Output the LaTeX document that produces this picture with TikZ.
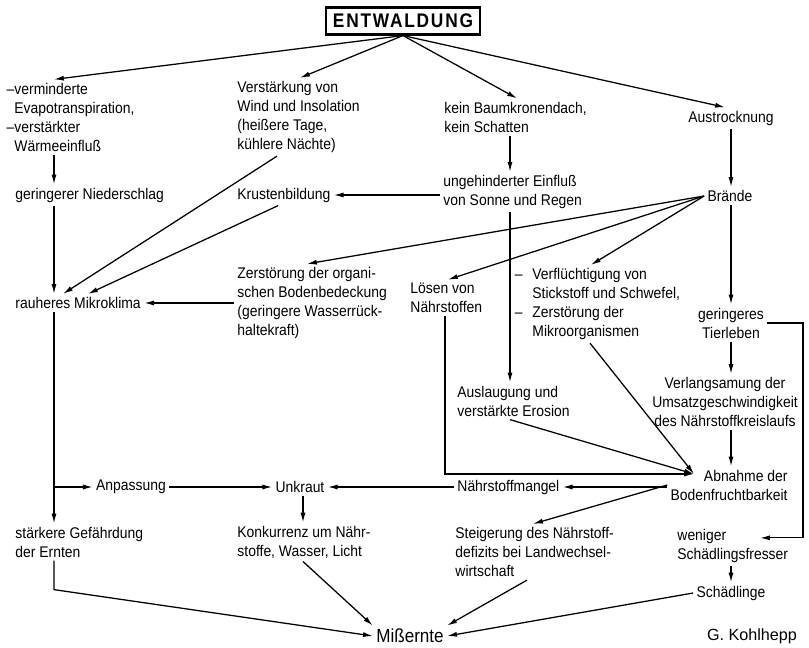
\documentclass[tikz,border=0pt]{standalone}
\usepackage{fontspec}
\setmainfont{Liberation Sans}[FakeStretch=0.9]
\newfontfamily\titlefont{Liberation Sans}[FakeStretch=0.88,LetterSpace=9]
\newfontfamily\signfont{Liberation Sans}
\usetikzlibrary{arrows.meta,calc}

\begin{document}
\begin{tikzpicture}[x=0.025cm,y=-0.025cm,line width=0.9pt,
	every node/.style={inner sep=2pt,font=\fontsize{11}{13.5}\selectfont},
	lbox/.style={anchor=west,align=left},
	cbox/.style={align=center},
	pfeil/.style={-{Latex[length=7pt,width=3.6pt]}}]
	\useasboundingbox (0,0) rectangle (809,647);

	\coordinate (c1) at (54,0);
	\coordinate (c2) at (303,0);
	\coordinate (c0) at (445,0);
	\coordinate (c3) at (510,0);
	\coordinate (c5) at (731,0);
	\coordinate (c6) at (803,0);

	\node[draw,line width=1.8pt,inner xsep=5pt,inner ysep=4.5pt,font=\titlefont\bfseries\fontsize{14}{16}\selectfont] (E) at (403,21) {ENTWALDUNG};

	\node[lbox]	(verm)		at (11,117)		{\llap{--}verminderte\\Evapotranspiration,\\\llap{--}verstärkter\\Wärmeeinfluß};
	\node[lbox]	(Verst)		at (234,117)	{Verstärkung von\\Wind und Insolation\\(heißere Tage,\\kühlere Nächte)};
	\node[lbox]	(keinB)		at (441,117)	{kein Baumkronendach,\\kein Schatten};
	\node[cbox]	(Austr)		at (731,118)	{Austrocknung};
	\node[lbox]	(gerN)		at (12,195)		{geringerer Niederschlag};
	\node[lbox]	(Krust)		at (234,195)	{Krustenbildung};
	\node[lbox]	(ungeh)		at (440,192)	{ungehinderter Einfluß\\von Sonne und Regen};
	\node[cbox]	(Braende)	at (730,196)	{Brände};
	\node[lbox]	(rauh)		at (12,303)		{rauheres Mikroklima};
	\node[lbox]	(Zerst)		at (234,303)	{Zerstörung der organi-\\schen Bodenbedeckung\\(geringere Wasserrück-\\haltekraft)};
	\node[lbox]	(Loesen)	at (407,298)	{Lösen von\\Nährstoffen};
	\node[lbox]	(Verfl)		at (529,304)	{\llap{--\hspace{7pt}}Verflüchtigung von\\Stickstoff und Schwefel,\\\llap{--\hspace{7pt}}Zerstörung der\\Mikroorganismen};
	\node[cbox]	(Tierl)		at (731,323)	{geringeres\\Tierleben};
	\node[cbox]	(Verl)		at (725,402)	{Verlangsamung der\\Umsatzgeschwindigkeit\\des Nährstoffkreislaufs};
	\node[lbox]	(Ausl)		at (454,401)	{Auslaugung und\\verstärkte Erosion};
	\node[anchor=east,align=right] (Abn) at (791,485) {Abnahme der\\Bodenfruchtbarkeit};
	\node[lbox]	(Naehrm)	at (454,487)	{Nährstoffmangel};
	\node[cbox]	(Unkr)		at (300,487)	{Unkraut};
	\node[cbox]	(Anp)		at (131,487)	{Anpassung};
	\node[lbox]	(staerk)	at (12,542)		{stärkere Gefährdung\\der Ernten};
	\node[lbox]	(Konk)		at (234,542)	{Konkurrenz um Nähr-\\stoffe, Wasser, Licht};
	\node[lbox]	(Steig)		at (452,552)	{Steigerung des Nährstoff-\\defizits bei Landwechsel-\\wirtschaft};
	\node[lbox]	(wenig)		at (674,546)	{weniger\\Schädlingsfresser};
	\node[cbox]	(Schaedl)	at (731,593)	{Schädlinge};
	\node[font=\fontsize{13.5}{15}\selectfont] (Miss) at (410,636) {Mißernte};
	\node[font=\signfont\fontsize{11.5}{13}\selectfont] (sign) at (752,636) {G. Kohlhepp};

	\coordinate (abnin) at ($(Abn.east)+(-97,-11)$);

	\path[pfeil]	(E.south)	edge	(c1 |- verm.north)
					edge	($(Verst.north west)+(66,0)$)
					edge	($(keinB.north west)+(76,0)$)
					edge	($(Austr.north)+(-6,0)$)
		(c1 |- verm.south)	edge	(c1 |- gerN.north)
		(c3 |- keinB.south)	edge	(c3 |- ungeh.north)
		(c5 |- Austr.south)	edge	(c5 |- Braende.north)
		(ungeh.west |- Krust.east)	edge	(Krust.east)
		(c1 |- gerN.south)	edge	(c1 |- rauh.north)
		($(Verst.south west)+(43,0)$)	edge	($(rauh.north west)+(51,0)$)
		($(Krust.south west)+(44,0)$)	edge	($(rauh.north west)+(76,0)$)
		(Zerst.west |- rauh.east)	edge	(rauh.east)
		(Braende.west)	edge	($(Zerst.north west)+(73,0)$)
					edge	($(Loesen.north west)+(41,0)$)
					edge	($(Verfl.north west)+(62,0)$)
		(c5 |- Braende.south)	edge	(c5 |- Tierl.north)
		(c5 |- Tierl.south)	edge	(c5 |- Verl.north)
		(c5 |- Verl.south)	edge	(c5 |- Abn.north)
		(c3 |- ungeh.south)	edge	(c3 |- Ausl.north)
		($(Ausl.south west)+(56,0)$)	edge	(abnin)
		($(Verfl.south west)+(61,0)$)	edge	(abnin)
		(Abn.west |- Naehrm.east)	edge	(Naehrm.east)
		(Abn.west)	edge	($(Steig.north west)+(81,0)$)
		(Naehrm.west)	edge	(Unkr.east)
		(Anp.east)	edge	(Unkr.west)
		(c1 |- rauh.south)	edge	(c1 |- staerk.north)
		(c1 |- Anp.west)	edge	(Anp.west)
		(c2 |- Unkr.south)	edge	(c2 |- Konk.north)
		(c5 |- wenig.south)	edge	(c5 |- Schaedl.north)
		(c2 |- Konk.south)	edge	(Miss.north west)
		($(Steig.south west)+(75,0)$)	edge	(Miss.north east)
		(Schaedl.west)	edge	(Miss.east);

	\draw[pfeil] (c0 |- Loesen.south) -- (c0 |- abnin) -- (abnin);
	\draw[pfeil] (Tierl.east) -- (c6 |- Tierl.east) -- ($(c6 |- wenig.north)+(0,12)$) -- ($(wenig.north west)+(86,12)$);
	\draw[pfeil] (c1 |- staerk.south) -- ($(c1 |- staerk.south)+(0,29)$) -- (Miss.west);
\end{tikzpicture}
\end{document}
